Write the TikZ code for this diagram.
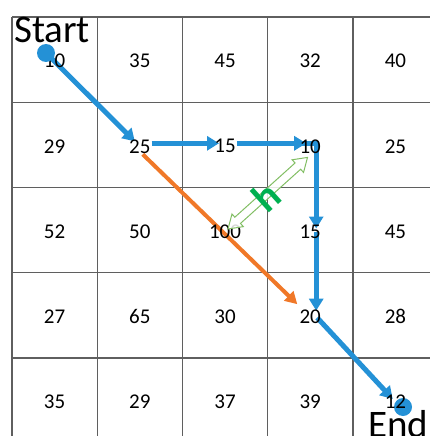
\documentclass[tikz,border=0pt]{standalone}
\usepackage{fontspec}
\setmainfont{Carlito}
\usetikzlibrary{arrows.meta}
\pgfdeclarelayer{bg}
\pgfsetlayers{bg,main}
\definecolor{pathblue}{RGB}{36,145,214}
\definecolor{pathorange}{RGB}{240,120,40}
\definecolor{hgreen}{RGB}{0,176,80}
\definecolor{arrowgreen}{RGB}{130,190,100}
\definecolor{gridgray}{RGB}{95,95,95}
\begin{document}
\begin{tikzpicture}[x=1pt,y=-1pt,
  num/.style={font=\fontsize{21}{21}\selectfont, inner sep=1pt},
  gridline/.style={draw=gridgray, line width=1.4pt},
  bluearrow/.style={draw=pathblue, line width=5pt, line join=miter, -{Triangle[length=12pt,width=14pt]}},
  orangearrow/.style={draw=pathorange, line width=4pt, -{Triangle[length=12pt,width=13pt]}},
  dot/.style={circle, fill=pathblue, minimum size=18pt, inner sep=0pt},
  bigtext/.style={font=\fontsize{39}{39}\selectfont, anchor=base west, inner sep=0pt}]
\useasboundingbox (0,0) rectangle (429,436);
\clip (0,0) rectangle (429,436);
% grid
\begin{pgfonlayer}{bg}
\foreach \i in {0,...,5} {
  \draw[gridline] ({12+85.2*\i},17) -- ({12+85.2*\i},470);
  \draw[gridline] (12,{17+85.2*\i}) -- (470,{17+85.2*\i});
}
\end{pgfonlayer}
% numbers
\foreach \r/\c/\v in {0/0/10,0/1/35,0/2/45,0/3/32,0/4/40,
                      1/0/29,1/1/25,1/2/15,1/3/10,1/4/25,
                      2/0/52,2/1/50,2/2/100,2/3/15,2/4/45,
                      3/0/27,3/1/65,3/2/30,3/3/20,3/4/28,
                      4/0/35,4/1/29,4/2/37,4/3/39,4/4/12}
  \node[num] (n\r\c) at ({12+85.2*(\c+0.5)},{17+85.2*(\r+0.5)+1.5}) {\v};
% labels and dots
\node[bigtext] (starttext) at (14,43) {Start};
\node[bigtext] (endtext) at (368,437) {End};
\node[dot] (start) at (46,53) {};
% connectors
\begin{pgfonlayer}{bg}
\node[dot] (end) at (403,407) {};
\draw[bluearrow, shorten >=7pt] (start.center) -- (n11.center);
\draw[bluearrow, shorten >=6pt] ([yshift=3pt]n11.east) -- ([yshift=3pt]n12.center);
\draw[bluearrow, shorten >=4pt] ([yshift=3pt]n12.east) -- ([yshift=3pt]n13.center);
\draw[bluearrow, shorten >=3pt] ([yshift=3pt]n13.west) -- ([xshift=6pt,yshift=3pt]n13.center) -- ([xshift=6pt]n23.center);
\draw[bluearrow, shorten >=6pt] ([xshift=6pt]n23.center) -- ([xshift=6pt]n33.center);
\draw[bluearrow, shorten >=4pt] ([xshift=7pt,yshift=-1pt]n33.center) -- (n44.center);
\draw[orangearrow, shorten >=18pt] ([xshift=3pt]n11.south) -- (n33.center);
\end{pgfonlayer}
% double arrow h
\begin{scope}[shift={(228,229)}, rotate=42]
  \draw[arrowgreen, line width=1pt, fill=white, fill opacity=0.85]
    (0,0) -- (13,8.5) -- (13,4.2) -- (94,4.2) -- (94,8.5) -- (107,0)
    -- (94,-8.5) -- (94,-4.2) -- (13,-4.2) -- (13,-8.5) -- cycle;
\end{scope}
\node[text=hgreen, rotate=42, font=\fontsize{41}{41}\selectfont\bfseries, inner sep=0pt] (h) at (266,196) {h};
\end{tikzpicture}
\end{document}
